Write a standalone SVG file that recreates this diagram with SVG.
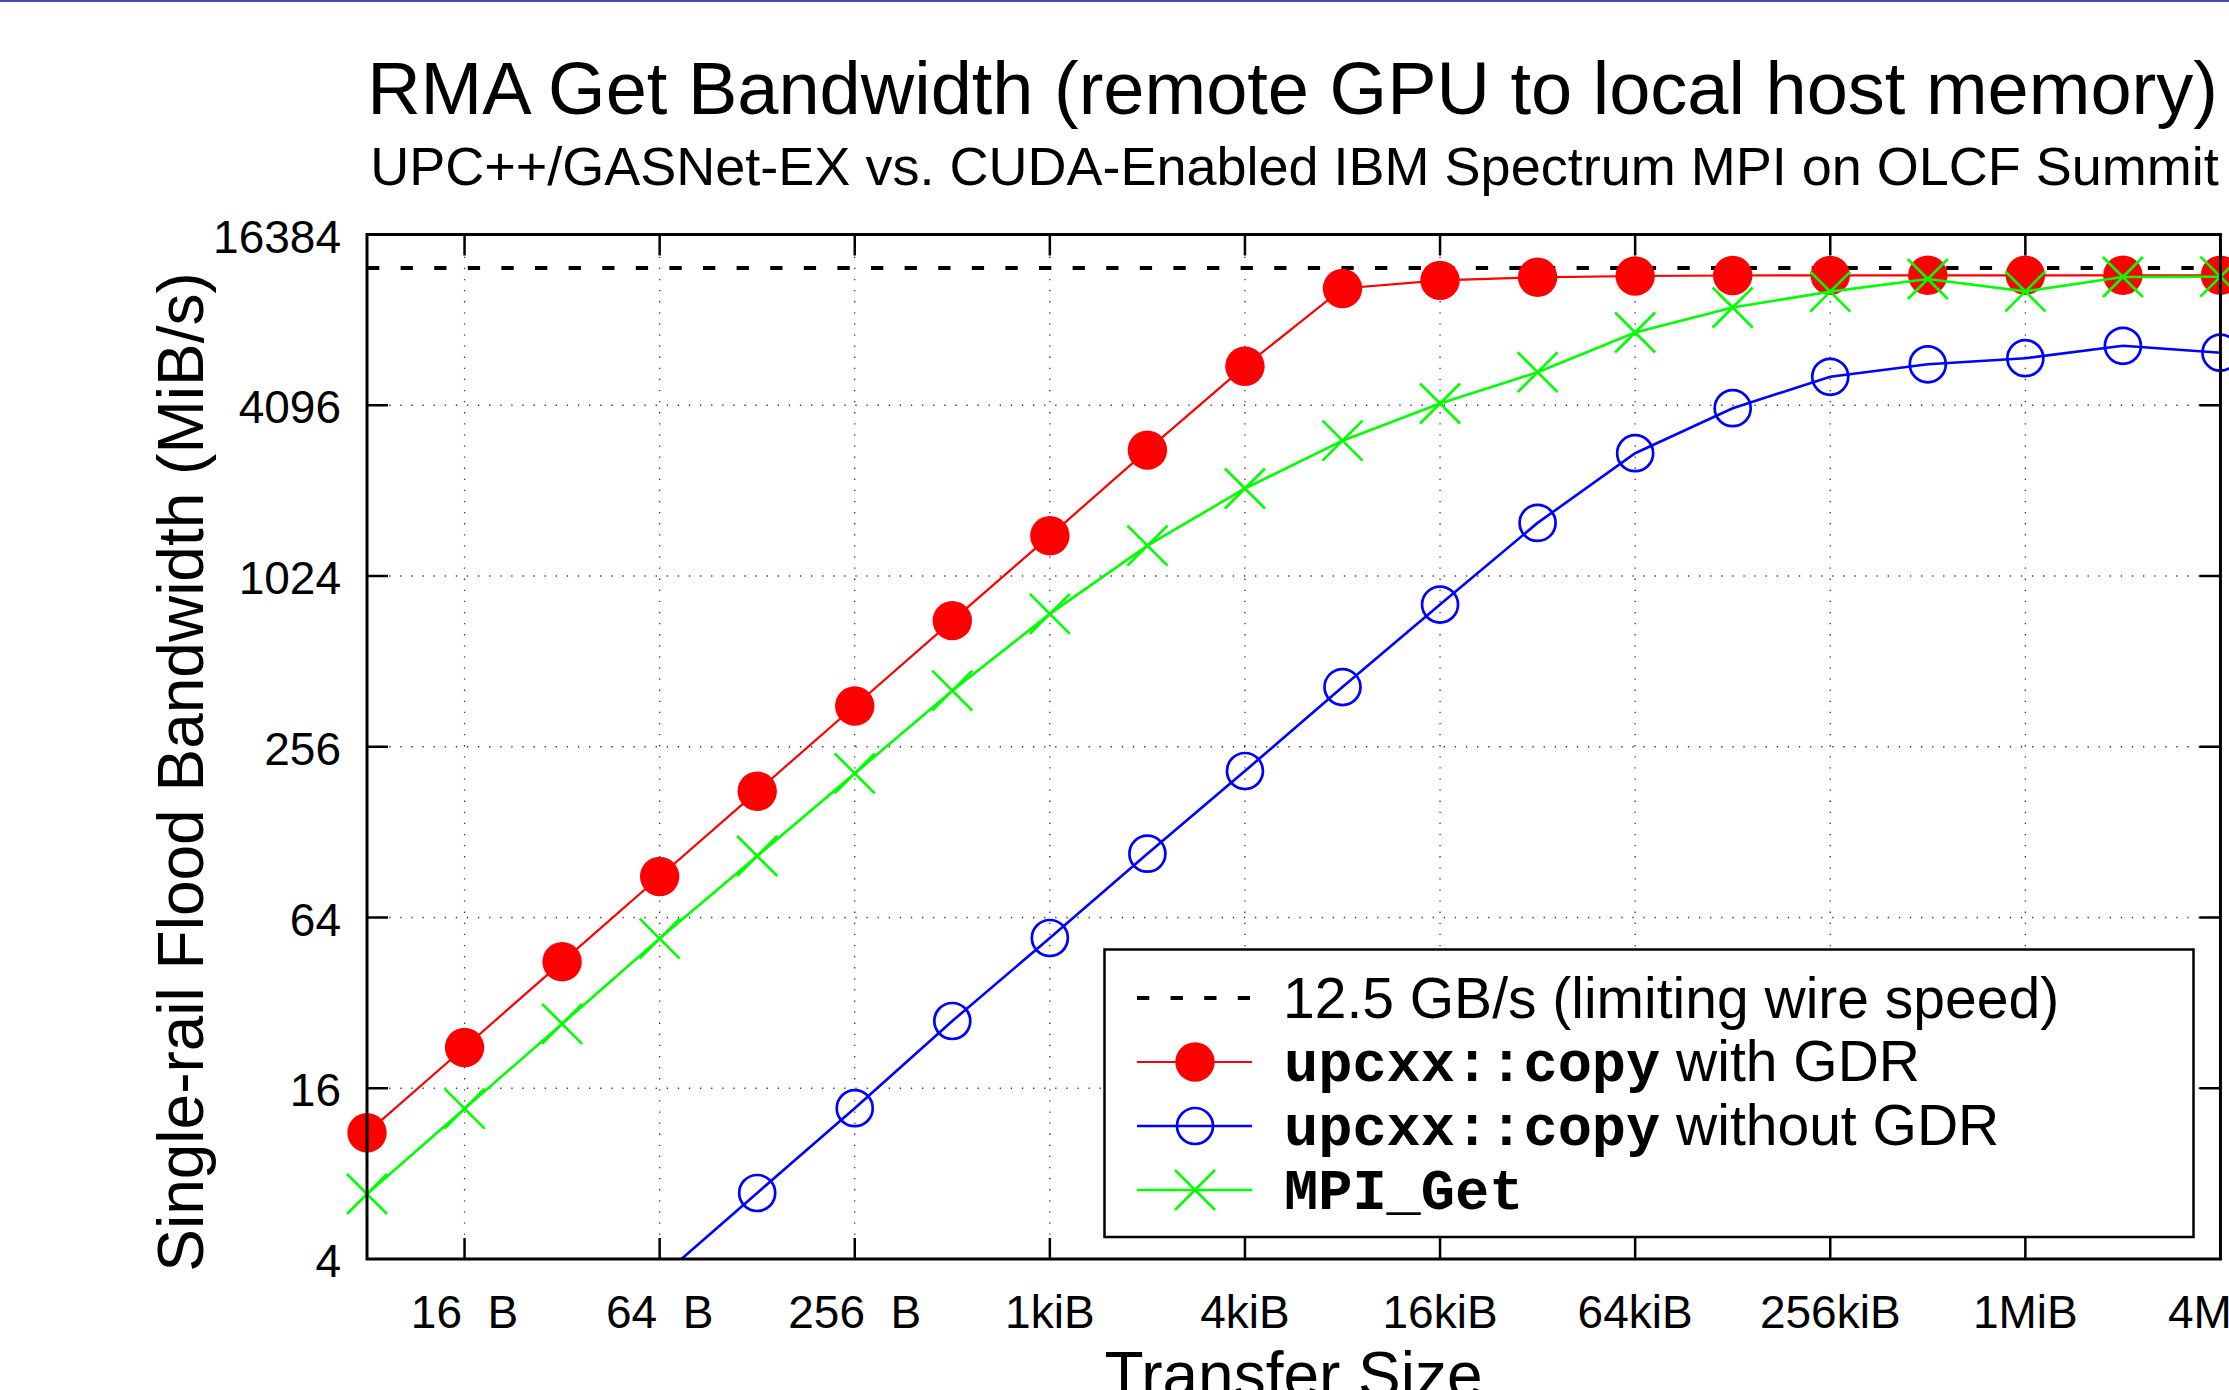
<svg xmlns="http://www.w3.org/2000/svg" xmlns:xlink="http://www.w3.org/1999/xlink" width="2229" height="1390" viewBox="0 0 2229 1390">
  <style>
    .sans { font-family: "Liberation Sans", Arial, Helvetica, sans-serif; fill: #000; }
    .mono { font-family: "Liberation Mono", "Courier New", monospace; font-weight: bold; }
    .ytick { font-size: 46px; text-anchor: end; }
    .xtick { font-size: 46px; text-anchor: middle; }
    .grid { stroke: #000; stroke-width: 1.3; stroke-dasharray: 1.3 9.8; fill: none; opacity: 0.8; }
    .border { stroke: #000; stroke-width: 3; fill: none; }
    .tick { stroke: #000; stroke-width: 2.5; fill: none; }
    .limit { stroke: #000; stroke-width: 4; stroke-dasharray: 12.3 21.3; fill: none; }
    .red { stroke: #ff0000; stroke-width: 2.2; fill: none; }
    .blue { stroke: #0000ff; stroke-width: 2.6; fill: none; }
    .green { stroke: #00ff00; stroke-width: 2.6; fill: none; }
    .legend-text { font-size: 57px; }
  </style>
  <defs>
    <clipPath id="plot-area">
      <rect x="367" y="234.5" width="1853.45" height="1024.5"/>
    </clipPath>
    <circle id="m-red" r="19.7" fill="#ff0000"/>
    <circle id="m-blue" r="18" fill="none" stroke="#0000ff" stroke-width="2.7"/>
    <path id="m-green" d="M-20,-20L20,20M-20,20L20,-20" stroke="#00ff00" stroke-width="2.6" fill="none"/>
  </defs>

  <rect width="2229" height="1390" fill="#ffffff"/>
  <rect x="0" y="0" width="2229" height="2" fill="#4a4aa8"/>

  <!-- titles -->
  <g id="title">
    <text class="sans" x="1292.5" y="113.5" font-size="74" text-anchor="middle">RMA Get Bandwidth (remote GPU to local host memory)</text>
    <text class="sans" x="1294.5" y="185" font-size="54" text-anchor="middle">UPC++/GASNet-EX vs. CUDA-Enabled IBM Spectrum MPI on OLCF Summit</text>
  </g>

  <!-- dotted grid -->
  <g id="grid">
    <path class="grid" d="M464.55,234.5V1259M659.65,234.5V1259M854.75,234.5V1259M1049.85,234.5V1259M1244.95,234.5V1259M1440.05,234.5V1259M1635.15,234.5V1259M1830.25,234.5V1259M2025.35,234.5V1259"/>
    <path class="grid" d="M367,405.25H2220.45M367,576H2220.45M367,746.75H2220.45M367,917.5H2220.45M367,1088.25H2220.45"/>
  </g>

  <!-- wire-speed limit -->
  <g id="limit-line">
    <path class="limit" d="M367,268H2220.45"/>
  </g>

  <!-- upcxx::copy with GDR -->
  <g id="series-gdr">
    <polyline class="red" points="367,1132.8 464.55,1047.5 562.1,961.8 659.65,876.5 757.2,791.3 854.75,706 952.3,620.6 1049.85,535.8 1147.4,450.1 1244.95,366.2 1342.5,288.5 1440.05,280.4 1537.6,277.3 1635.15,276 1732.7,275.5 1830.25,275.4 1927.8,275.3 2025.35,275.3 2122.9,275.3 2220.45,275.3"/>
    <use xlink:href="#m-red" x="367" y="1132.8"/>
    <use xlink:href="#m-red" x="464.55" y="1047.5"/>
    <use xlink:href="#m-red" x="562.1" y="961.8"/>
    <use xlink:href="#m-red" x="659.65" y="876.5"/>
    <use xlink:href="#m-red" x="757.2" y="791.3"/>
    <use xlink:href="#m-red" x="854.75" y="706"/>
    <use xlink:href="#m-red" x="952.3" y="620.6"/>
    <use xlink:href="#m-red" x="1049.85" y="535.8"/>
    <use xlink:href="#m-red" x="1147.4" y="450.1"/>
    <use xlink:href="#m-red" x="1244.95" y="366.2"/>
    <use xlink:href="#m-red" x="1342.5" y="288.5"/>
    <use xlink:href="#m-red" x="1440.05" y="280.4"/>
    <use xlink:href="#m-red" x="1537.6" y="277.3"/>
    <use xlink:href="#m-red" x="1635.15" y="276"/>
    <use xlink:href="#m-red" x="1732.7" y="275.5"/>
    <use xlink:href="#m-red" x="1830.25" y="275.4"/>
    <use xlink:href="#m-red" x="1927.8" y="275.3"/>
    <use xlink:href="#m-red" x="2025.35" y="275.3"/>
    <use xlink:href="#m-red" x="2122.9" y="275.3"/>
    <use xlink:href="#m-red" x="2220.45" y="275.3"/>
  </g>

  <!-- upcxx::copy without GDR -->
  <g id="series-nogdr">
    <polyline class="blue" clip-path="url(#plot-area)" points="659.65,1278 757.2,1193 854.75,1108.2 952.3,1021 1049.85,938 1147.4,853.7 1244.95,771 1342.5,687.1 1440.05,604.6 1537.6,522.9 1635.15,453.2 1732.7,408.2 1830.25,376.8 1927.8,364.3 2025.35,358.2 2122.9,345.8 2220.45,352.7"/>
    <use xlink:href="#m-blue" x="757.2" y="1193"/>
    <use xlink:href="#m-blue" x="854.75" y="1108.2"/>
    <use xlink:href="#m-blue" x="952.3" y="1021"/>
    <use xlink:href="#m-blue" x="1049.85" y="938"/>
    <use xlink:href="#m-blue" x="1147.4" y="853.7"/>
    <use xlink:href="#m-blue" x="1244.95" y="771"/>
    <use xlink:href="#m-blue" x="1342.5" y="687.1"/>
    <use xlink:href="#m-blue" x="1440.05" y="604.6"/>
    <use xlink:href="#m-blue" x="1537.6" y="522.9"/>
    <use xlink:href="#m-blue" x="1635.15" y="453.2"/>
    <use xlink:href="#m-blue" x="1732.7" y="408.2"/>
    <use xlink:href="#m-blue" x="1830.25" y="376.8"/>
    <use xlink:href="#m-blue" x="1927.8" y="364.3"/>
    <use xlink:href="#m-blue" x="2025.35" y="358.2"/>
    <use xlink:href="#m-blue" x="2122.9" y="345.8"/>
    <use xlink:href="#m-blue" x="2220.45" y="352.7"/>
  </g>

  <!-- MPI_Get -->
  <g id="series-mpi">
    <polyline class="green" points="367,1194 464.55,1108.7 562.1,1023.8 659.65,938.6 757.2,856 854.75,773.4 952.3,690.7 1049.85,613.9 1147.4,545.6 1244.95,488.5 1342.5,440.7 1440.05,403.5 1537.6,372.2 1635.15,332.5 1732.7,307.5 1830.25,291.6 1927.8,279 2025.35,291.4 2122.9,277 2220.45,276.7"/>
    <use xlink:href="#m-green" x="367" y="1194"/>
    <use xlink:href="#m-green" x="464.55" y="1108.7"/>
    <use xlink:href="#m-green" x="562.1" y="1023.8"/>
    <use xlink:href="#m-green" x="659.65" y="938.6"/>
    <use xlink:href="#m-green" x="757.2" y="856"/>
    <use xlink:href="#m-green" x="854.75" y="773.4"/>
    <use xlink:href="#m-green" x="952.3" y="690.7"/>
    <use xlink:href="#m-green" x="1049.85" y="613.9"/>
    <use xlink:href="#m-green" x="1147.4" y="545.6"/>
    <use xlink:href="#m-green" x="1244.95" y="488.5"/>
    <use xlink:href="#m-green" x="1342.5" y="440.7"/>
    <use xlink:href="#m-green" x="1440.05" y="403.5"/>
    <use xlink:href="#m-green" x="1537.6" y="372.2"/>
    <use xlink:href="#m-green" x="1635.15" y="332.5"/>
    <use xlink:href="#m-green" x="1732.7" y="307.5"/>
    <use xlink:href="#m-green" x="1830.25" y="291.6"/>
    <use xlink:href="#m-green" x="1927.8" y="279"/>
    <use xlink:href="#m-green" x="2025.35" y="291.4"/>
    <use xlink:href="#m-green" x="2122.9" y="277"/>
    <use xlink:href="#m-green" x="2220.45" y="276.7"/>
  </g>

  <!-- legend -->
  <g id="legend">
    <rect x="1104.5" y="949.5" width="1089" height="287.5" fill="#ffffff" stroke="#000" stroke-width="2.5"/>
    <path class="limit" d="M1137,998H1250"/>
    <text class="sans legend-text" x="1283" y="1018">12.5 GB/s (limiting wire speed)</text>

    <path class="red" d="M1137,1062H1252"/>
    <use xlink:href="#m-red" x="1195" y="1062"/>
    <text class="sans legend-text" x="1284" y="1081" xml:space="preserve"><tspan class="mono">upcxx::copy</tspan> with GDR</text>

    <path class="blue" d="M1137,1126H1252"/>
    <use xlink:href="#m-blue" x="1195" y="1126"/>
    <text class="sans legend-text" x="1284" y="1145" xml:space="preserve"><tspan class="mono">upcxx::copy</tspan> without GDR</text>

    <path class="green" d="M1137,1190H1252"/>
    <use xlink:href="#m-green" x="1195" y="1190"/>
    <text class="sans legend-text mono" x="1284" y="1209">MPI_Get</text>
  </g>

  <!-- frame and ticks -->
  <g id="axes">
    <path class="tick" d="M464.55,1259v-21M659.65,1259v-21M854.75,1259v-21M1049.85,1259v-21M1244.95,1259v-21M1440.05,1259v-21M1635.15,1259v-21M1830.25,1259v-21M2025.35,1259v-21"/>
    <path class="tick" d="M464.55,234.5v21M659.65,234.5v21M854.75,234.5v21M1049.85,234.5v21M1244.95,234.5v21M1440.05,234.5v21M1635.15,234.5v21M1830.25,234.5v21M2025.35,234.5v21"/>
    <path class="tick" d="M367,405.25h21M367,576h21M367,746.75h21M367,917.5h21M367,1088.25h21"/>
    <path class="tick" d="M2220.45,405.25h-21M2220.45,576h-21M2220.45,746.75h-21M2220.45,917.5h-21M2220.45,1088.25h-21"/>
    <rect class="border" x="367" y="234.5" width="1853.45" height="1024.5"/>
  </g>

  <!-- y axis -->
  <g id="y-axis">
    <text class="sans ytick" x="341" y="252.5">16384</text>
    <text class="sans ytick" x="341" y="423.25">4096</text>
    <text class="sans ytick" x="341" y="594">1024</text>
    <text class="sans ytick" x="341" y="764.75">256</text>
    <text class="sans ytick" x="341" y="935.5">64</text>
    <text class="sans ytick" x="341" y="1106.25">16</text>
    <text class="sans ytick" x="341" y="1277">4</text>
    <text class="sans" font-size="64" text-anchor="middle" transform="translate(203,772) rotate(-90)">Single-rail Flood Bandwidth (MiB/s)</text>
  </g>

  <!-- x axis -->
  <g id="x-axis">
    <text class="sans xtick" x="464.55" y="1328" xml:space="preserve">16  B</text>
    <text class="sans xtick" x="659.65" y="1328" xml:space="preserve">64  B</text>
    <text class="sans xtick" x="854.75" y="1328" xml:space="preserve">256  B</text>
    <text class="sans xtick" x="1049.85" y="1328">1kiB</text>
    <text class="sans xtick" x="1244.95" y="1328">4kiB</text>
    <text class="sans xtick" x="1440.05" y="1328">16kiB</text>
    <text class="sans xtick" x="1635.15" y="1328">64kiB</text>
    <text class="sans xtick" x="1830.25" y="1328">256kiB</text>
    <text class="sans xtick" x="2025.35" y="1328">1MiB</text>
    <text class="sans xtick" x="2220.45" y="1328">4MiB</text>
    <text class="sans" x="1293.5" y="1397" font-size="64" text-anchor="middle">Transfer Size</text>
  </g>
</svg>
